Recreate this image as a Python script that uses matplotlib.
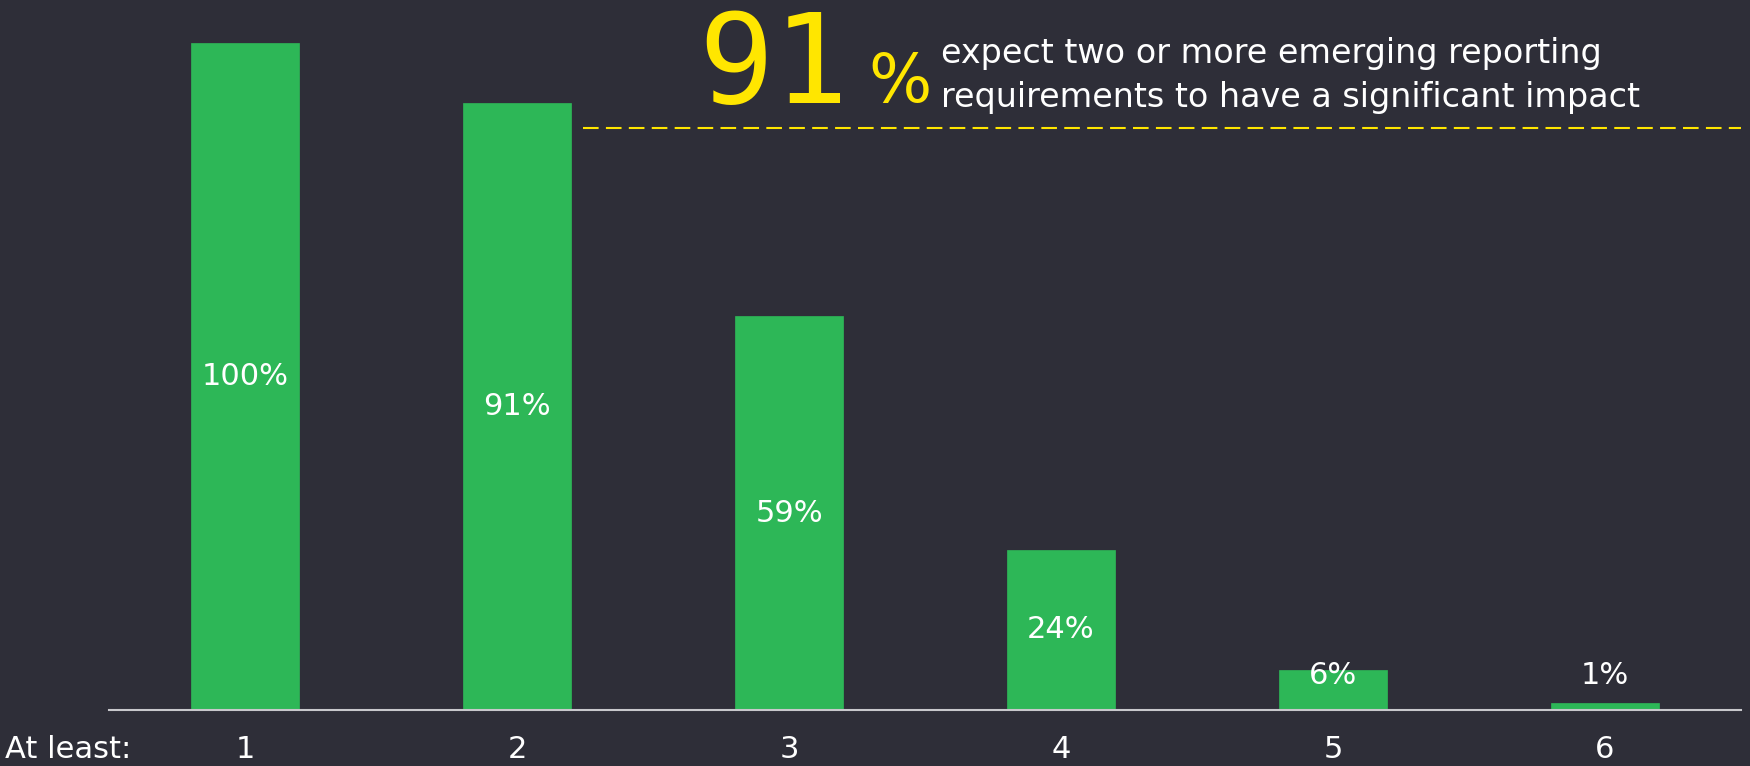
import matplotlib.pyplot as plt

# share of respondents expecting at least N emerging reporting requirements to matter
counts = ["1", "2", "3", "4", "5", "6"]
shares = [100, 91, 59, 24, 6, 1]
headline = 91
headline_lines = ["expect two or more emerging reporting",
                  "requirements to have a significant impact"]

bg = "#2e2e38"
green = "#2db757"
yellow = "#ffe600"

plt.rcParams['font.family'] = ['DejaVu Sans']

fig = plt.figure(figsize=(17.5, 7.66), dpi=100, facecolor=bg)
ax = fig.add_axes([109 / 1750, 56 / 766, 1632 / 1750, 667 / 766])
ax.set_facecolor(bg)

x = list(range(len(counts)))
ax.bar(x, shares, width=0.4, color=green, edgecolor=green, linewidth=0.5)

# value labels sit mid-bar, but never lower than a floor for the short bars
for xi, v in zip(x, shares):
    ax.text(xi, max(v / 2, 5.2), f"{v}%", ha="center", va="center",
            color="white", fontsize=22)

ax.set_xlim(-0.5, 5.5)
ax.set_ylim(0, 100)
ax.set_xticks(x)
ax.set_xticklabels(counts, fontsize=22, color="white")
ax.tick_params(axis="x", length=0, pad=18)
ax.set_yticks([])
for s in ["top", "left", "right"]:
    ax.spines[s].set_visible(False)
ax.spines["bottom"].set_color("#c8c8cc")
ax.spines["bottom"].set_linewidth(1.5)

# dashed guide next to the headline
ax.axhline(87.3, xmin=(1.243 + 0.5) / 6, xmax=1.0, color=yellow,
           linewidth=1.5, dashes=(7.5, 3.5))

fig.text(5 / 1750, 1 - 750 / 766, "At least:", ha="left", va="center",
         color="white", fontsize=22)

fig.text(698 / 1750, 1 - 103 / 766, f"{headline}", ha="left", va="baseline",
         color=yellow, fontsize=90, family="DejaVu Sans Mono")
fig.text(868 / 1750, 1 - 102 / 766, "%", ha="left", va="baseline",
         color=yellow, fontsize=48)
for i, line in enumerate(headline_lines):
    fig.text(941 / 1750, 1 - (63 + 44 * i) / 766, line, ha="left",
             va="baseline", color="white", fontsize=24)

fig.savefig("out.png", dpi=100, facecolor=bg)
